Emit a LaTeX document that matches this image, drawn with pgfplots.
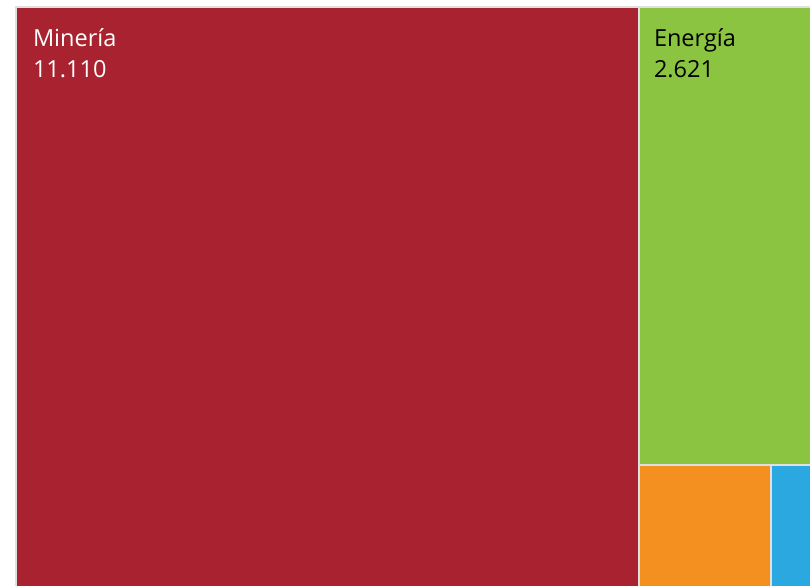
\documentclass[border=0pt]{standalone}
\usepackage{pgfplots}
\pgfplotsset{compat=1.18}
\usepackage{fontspec}
\setmainfont{Open Sans}

\definecolor{mineria}{HTML}{A8232F}
\definecolor{energia}{HTML}{8BC441}
\definecolor{naranja}{HTML}{F3901F}
\definecolor{azul}{HTML}{2CA8E0}
\definecolor{marco}{HTML}{E0E0E0}

\tikzset{etiqueta/.style={inner sep=0pt, outer sep=0pt, anchor=base west, font=\fontsize{23.5bp}{27bp}\selectfont}}

\begin{document}
\begin{tikzpicture}
  \begin{axis}[
      width=810bp, height=586bp,
      scale only axis,
      xmin=0, xmax=810, ymin=0, ymax=586,
      hide axis,
      clip=true]
    % fondo gris (marco y separaciones)
    \addplot[fill=marco, draw=none] coordinates {(15,0) (810,0) (810,580) (15,580)} -- cycle;
    % rectangulos del treemap
    \addplot[fill=mineria, draw=none] coordinates {(17,0) (638,0) (638,578) (17,578)} -- cycle;
    \addplot[fill=energia, draw=none] coordinates {(640,122) (810,122) (810,578) (640,578)} -- cycle;
    \addplot[fill=naranja, draw=none] coordinates {(640,0) (770,0) (770,120) (640,120)} -- cycle;
    \addplot[fill=azul, draw=none] coordinates {(772,0) (810,0) (810,120) (772,120)} -- cycle;

    \node[etiqueta, text=white] at (axis cs:33,539) {Minería};
    \node[etiqueta, text=white] at (axis cs:33,508) {11.110};
    \node[etiqueta, text=black] at (axis cs:654,539) {Energía};
    \node[etiqueta, text=black] at (axis cs:654,508) {2.621};
  \end{axis}
  \useasboundingbox (0,0) rectangle (810bp,586bp);
\end{tikzpicture}
\end{document}
